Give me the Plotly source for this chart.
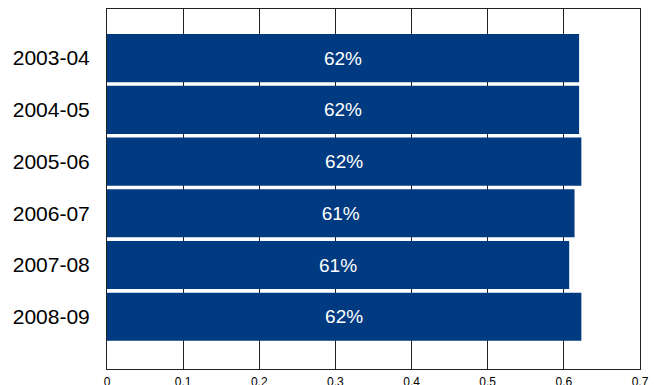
import plotly.graph_objects as go

categories = ["2003-04", "2004-05", "2005-06", "2006-07", "2007-08", "2008-09"]
values = [0.620, 0.620, 0.623, 0.614, 0.607, 0.623]
x_ticks = [0, 0.1, 0.2, 0.3, 0.4, 0.5, 0.6, 0.7]

fig = go.Figure(go.Bar(
    y=categories,
    x=values,
    orientation="h",
    marker=dict(color="#003a80", line=dict(width=0)),
    text=values,
    texttemplate="%{x:.0%}",
    textposition="inside",
    insidetextanchor="middle",
    textfont=dict(color="white", size=19, family="Liberation Sans, Arial, sans-serif"),
    hoverinfo="skip",
))

# page body adds an 8px offset, so the figure is sized to fill the rest of the window
fig.update_layout(
    width=650, height=377,
    margin=dict(l=99, r=18, t=1, b=16, autoexpand=False),
    paper_bgcolor="white", plot_bgcolor="white",
    bargap=0.07,
    showlegend=False,
    font=dict(family="Liberation Sans, Arial, sans-serif", color="black"),
)
fig.update_xaxes(
    range=[0, 0.7], tickvals=x_ticks, ticktext=[f"{v:g}" for v in x_ticks],
    showgrid=True, gridcolor="#222", gridwidth=1,
    showline=True, linecolor="#222", linewidth=1, mirror=True,
    zeroline=False, ticks="", tickfont=dict(size=12), automargin=False,
    ticklabelstandoff=2,
)
fig.update_yaxes(
    type="category", categoryorder="array", categoryarray=categories,
    range=[6.01, -0.95], showgrid=False, zeroline=False,
    showline=True, linecolor="#222", linewidth=1, mirror=True,
    ticks="", tickfont=dict(size=21), ticklabelstandoff=12, automargin=False,
)

fig.write_html("out.html")
